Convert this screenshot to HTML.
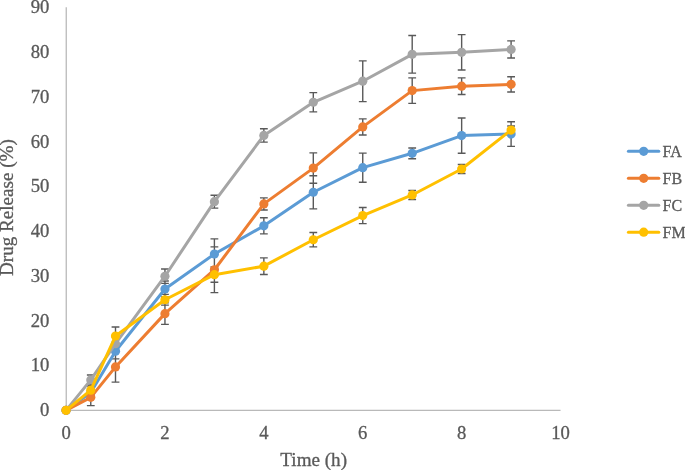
<!DOCTYPE html>
<html><head><meta charset="utf-8"><title>Drug Release</title>
<style>
html,body{margin:0;padding:0;background:#fff;}
body{width:685px;height:470px;overflow:hidden;}
svg{display:block;will-change:transform;}
text{font-family:"Liberation Serif",serif;fill:#595959;stroke:#595959;stroke-width:0.3px;}
</style></head><body>
<svg width="685" height="470" viewBox="0 0 685 470">
<rect x="0" y="0" width="685" height="470" fill="#ffffff"/>

<line x1="66.25" y1="7.33" x2="66.25" y2="411.00" stroke="#B9B9B9" stroke-width="1.3"/>
<line x1="65.65" y1="410.45" x2="560.55" y2="410.45" stroke="#B9B9B9" stroke-width="1.3"/>
<text x="49.3" y="416.25" font-size="18.67" text-anchor="end">0</text>
<text x="49.3" y="371.47" font-size="18.67" text-anchor="end">10</text>
<text x="49.3" y="326.69" font-size="18.67" text-anchor="end">20</text>
<text x="49.3" y="281.91" font-size="18.67" text-anchor="end">30</text>
<text x="49.3" y="237.13" font-size="18.67" text-anchor="end">40</text>
<text x="49.3" y="192.35" font-size="18.67" text-anchor="end">50</text>
<text x="49.3" y="147.57" font-size="18.67" text-anchor="end">60</text>
<text x="49.3" y="102.79" font-size="18.67" text-anchor="end">70</text>
<text x="49.3" y="58.01" font-size="18.67" text-anchor="end">80</text>
<text x="49.3" y="13.23" font-size="18.67" text-anchor="end">90</text>
<text x="66.05" y="438.6" font-size="18.67" text-anchor="middle">0</text>
<text x="164.95" y="438.6" font-size="18.67" text-anchor="middle">2</text>
<text x="263.85" y="438.6" font-size="18.67" text-anchor="middle">4</text>
<text x="362.75" y="438.6" font-size="18.67" text-anchor="middle">6</text>
<text x="461.65" y="438.6" font-size="18.67" text-anchor="middle">8</text>
<text x="560.55" y="438.6" font-size="18.67" text-anchor="middle">10</text>
<text x="313.7" y="466.4" font-size="19.1" text-anchor="middle">Time (h)</text>
<text transform="translate(13.3 207.6) rotate(-90)" font-size="19.1" text-anchor="middle">Drug Release (%)</text>
<path d="M90.78 388.86V396.02M86.88 388.86h7.8M86.88 396.02h7.8M115.50 343.63V358.85M111.60 343.63h7.8M111.60 358.85h7.8M164.95 280.94V297.06M161.05 280.94h7.8M161.05 297.06h7.8M214.40 238.84V269.29M210.50 238.84h7.8M210.50 269.29h7.8M263.85 217.80V233.92M259.95 217.80h7.8M259.95 233.92h7.8M313.30 175.70V208.84M309.40 175.70h7.8M309.40 208.84h7.8M362.75 153.09V182.20M358.85 153.09h7.8M358.85 182.20h7.8M412.20 147.94V158.69M408.30 147.94h7.8M408.30 158.69h7.8M461.65 117.94V153.31M457.75 117.94h7.8M457.75 153.31h7.8M511.10 121.74V146.37M507.20 121.74h7.8M507.20 146.37h7.8M90.78 389.08V405.65M86.88 389.08h7.8M86.88 405.65h7.8M115.50 351.69V382.14M111.60 351.69h7.8M111.60 382.14h7.8M164.95 302.88V324.37M161.05 302.88h7.8M161.05 324.37h7.8M214.40 246.90V292.58M210.50 246.90h7.8M210.50 292.58h7.8M263.85 197.87V209.96M259.95 197.87h7.8M259.95 209.96h7.8M313.30 152.87V183.32M309.40 152.87h7.8M309.40 183.32h7.8M362.75 118.83V134.95M358.85 118.83h7.8M358.85 134.95h7.8M412.20 77.86V103.38M408.30 77.86h7.8M408.30 103.38h7.8M461.65 77.86V94.43M457.75 77.86h7.8M457.75 94.43h7.8M511.10 76.74V91.96M507.20 76.74h7.8M507.20 91.96h7.8M90.78 374.97V384.83M86.88 374.97h7.8M86.88 384.83h7.8M115.50 336.91V350.34M111.60 336.91h7.8M111.60 350.34h7.8M164.95 269.07V283.40M161.05 269.07h7.8M161.05 283.40h7.8M214.40 195.18V208.17M210.50 195.18h7.8M210.50 208.17h7.8M263.85 128.68V142.12M259.95 128.68h7.8M259.95 142.12h7.8M313.30 92.64V111.89M309.40 92.64h7.8M309.40 111.89h7.8M362.75 60.84V101.59M358.85 60.84h7.8M358.85 101.59h7.8M412.20 35.54V73.16M408.30 35.54h7.8M408.30 73.16h7.8M461.65 34.65V70.02M457.75 34.65h7.8M457.75 70.02h7.8M511.10 40.83V58.02M507.20 40.83h7.8M507.20 58.02h7.8M90.78 386.17V394.23M86.88 386.17h7.8M86.88 394.23h7.8M115.50 327.06V344.97M111.60 327.06h7.8M111.60 344.97h7.8M164.95 294.37V305.12M161.05 294.37h7.8M161.05 305.12h7.8M214.40 267.05V282.28M210.50 267.05h7.8M210.50 282.28h7.8M263.85 257.87V274.44M259.95 257.87h7.8M259.95 274.44h7.8M313.30 232.57V246.90M309.40 232.57h7.8M309.40 246.90h7.8M362.75 207.50V223.62M358.85 207.50h7.8M358.85 223.62h7.8M412.20 190.48V199.44M408.30 190.48h7.8M408.30 199.44h7.8M461.65 164.51V173.46M457.75 164.51h7.8M457.75 173.46h7.8M511.10 126.00V134.06M507.20 126.00h7.8M507.20 134.06h7.8" stroke="#595959" stroke-width="1.4" fill="none"/>
<polyline points="66.05,410.35 90.78,392.44 115.50,351.24 164.95,289.00 214.40,254.07 263.85,225.86 313.30,192.27 362.75,167.64 412.20,153.31 461.65,135.62 511.10,134.06" fill="none" stroke="#5B9BD5" stroke-width="3.0" stroke-linejoin="round" stroke-linecap="round"/>
<circle cx="66.05" cy="410.35" r="4.6" fill="#5B9BD5"/>
<circle cx="90.78" cy="392.44" r="4.6" fill="#5B9BD5"/>
<circle cx="115.50" cy="351.24" r="4.6" fill="#5B9BD5"/>
<circle cx="164.95" cy="289.00" r="4.6" fill="#5B9BD5"/>
<circle cx="214.40" cy="254.07" r="4.6" fill="#5B9BD5"/>
<circle cx="263.85" cy="225.86" r="4.6" fill="#5B9BD5"/>
<circle cx="313.30" cy="192.27" r="4.6" fill="#5B9BD5"/>
<circle cx="362.75" cy="167.64" r="4.6" fill="#5B9BD5"/>
<circle cx="412.20" cy="153.31" r="4.6" fill="#5B9BD5"/>
<circle cx="461.65" cy="135.62" r="4.6" fill="#5B9BD5"/>
<circle cx="511.10" cy="134.06" r="4.6" fill="#5B9BD5"/>
<polyline points="66.05,410.35 90.78,397.36 115.50,366.91 164.95,313.63 214.40,269.74 263.85,203.91 313.30,168.09 362.75,126.89 412.20,90.62 461.65,86.14 511.10,84.35" fill="none" stroke="#ED7D31" stroke-width="3.0" stroke-linejoin="round" stroke-linecap="round"/>
<circle cx="66.05" cy="410.35" r="4.6" fill="#ED7D31"/>
<circle cx="90.78" cy="397.36" r="4.6" fill="#ED7D31"/>
<circle cx="115.50" cy="366.91" r="4.6" fill="#ED7D31"/>
<circle cx="164.95" cy="313.63" r="4.6" fill="#ED7D31"/>
<circle cx="214.40" cy="269.74" r="4.6" fill="#ED7D31"/>
<circle cx="263.85" cy="203.91" r="4.6" fill="#ED7D31"/>
<circle cx="313.30" cy="168.09" r="4.6" fill="#ED7D31"/>
<circle cx="362.75" cy="126.89" r="4.6" fill="#ED7D31"/>
<circle cx="412.20" cy="90.62" r="4.6" fill="#ED7D31"/>
<circle cx="461.65" cy="86.14" r="4.6" fill="#ED7D31"/>
<circle cx="511.10" cy="84.35" r="4.6" fill="#ED7D31"/>
<polyline points="66.05,410.35 90.78,379.90 115.50,343.63 164.95,276.23 214.40,201.68 263.85,135.40 313.30,102.26 362.75,81.22 412.20,54.35 461.65,52.33 511.10,49.42" fill="none" stroke="#A5A5A5" stroke-width="3.0" stroke-linejoin="round" stroke-linecap="round"/>
<circle cx="66.05" cy="410.35" r="4.6" fill="#A5A5A5"/>
<circle cx="90.78" cy="379.90" r="4.6" fill="#A5A5A5"/>
<circle cx="115.50" cy="343.63" r="4.6" fill="#A5A5A5"/>
<circle cx="164.95" cy="276.23" r="4.6" fill="#A5A5A5"/>
<circle cx="214.40" cy="201.68" r="4.6" fill="#A5A5A5"/>
<circle cx="263.85" cy="135.40" r="4.6" fill="#A5A5A5"/>
<circle cx="313.30" cy="102.26" r="4.6" fill="#A5A5A5"/>
<circle cx="362.75" cy="81.22" r="4.6" fill="#A5A5A5"/>
<circle cx="412.20" cy="54.35" r="4.6" fill="#A5A5A5"/>
<circle cx="461.65" cy="52.33" r="4.6" fill="#A5A5A5"/>
<circle cx="511.10" cy="49.42" r="4.6" fill="#A5A5A5"/>
<polyline points="66.05,410.35 90.78,390.20 115.50,336.02 164.95,299.74 214.40,274.67 263.85,266.16 313.30,239.74 362.75,215.56 412.20,194.96 461.65,168.99 511.10,130.03" fill="none" stroke="#FFC000" stroke-width="3.0" stroke-linejoin="round" stroke-linecap="round"/>
<circle cx="66.05" cy="410.35" r="4.6" fill="#FFC000"/>
<circle cx="90.78" cy="390.20" r="4.6" fill="#FFC000"/>
<circle cx="115.50" cy="336.02" r="4.6" fill="#FFC000"/>
<circle cx="164.95" cy="299.74" r="4.6" fill="#FFC000"/>
<circle cx="214.40" cy="274.67" r="4.6" fill="#FFC000"/>
<circle cx="263.85" cy="266.16" r="4.6" fill="#FFC000"/>
<circle cx="313.30" cy="239.74" r="4.6" fill="#FFC000"/>
<circle cx="362.75" cy="215.56" r="4.6" fill="#FFC000"/>
<circle cx="412.20" cy="194.96" r="4.6" fill="#FFC000"/>
<circle cx="461.65" cy="168.99" r="4.6" fill="#FFC000"/>
<circle cx="511.10" cy="130.03" r="4.6" fill="#FFC000"/>
<line x1="628.4" y1="151.35" x2="658.8" y2="151.35" stroke="#5B9BD5" stroke-width="3.0" stroke-linecap="round"/>
<circle cx="643.7" cy="151.35" r="4.6" fill="#5B9BD5"/>
<text x="662.5" y="156.65" font-size="16">FA</text>
<line x1="628.4" y1="178.30" x2="658.8" y2="178.30" stroke="#ED7D31" stroke-width="3.0" stroke-linecap="round"/>
<circle cx="643.7" cy="178.30" r="4.6" fill="#ED7D31"/>
<text x="662.5" y="183.60" font-size="16">FB</text>
<line x1="628.4" y1="205.30" x2="658.8" y2="205.30" stroke="#A5A5A5" stroke-width="3.0" stroke-linecap="round"/>
<circle cx="643.7" cy="205.30" r="4.6" fill="#A5A5A5"/>
<text x="662.5" y="210.60" font-size="16">FC</text>
<line x1="628.4" y1="232.20" x2="658.8" y2="232.20" stroke="#FFC000" stroke-width="3.0" stroke-linecap="round"/>
<circle cx="643.7" cy="232.20" r="4.6" fill="#FFC000"/>
<text x="662.5" y="237.50" font-size="16">FM</text>
</svg></body></html>
